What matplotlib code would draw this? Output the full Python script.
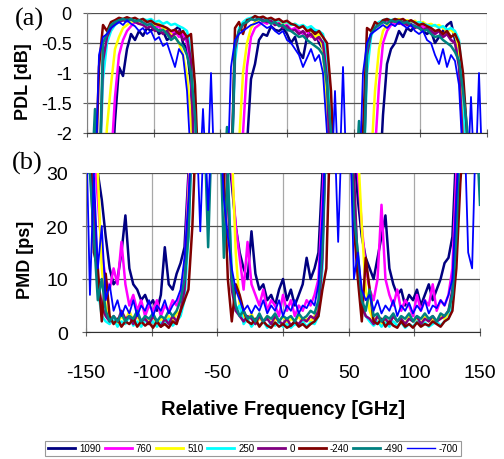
import matplotlib
matplotlib.use('Agg')
import matplotlib.pyplot as plt
from matplotlib.lines import Line2D

plt.rcParams['font.family'] = ['Liberation Sans', 'DejaVu Sans']
plt.rcParams['axes.unicode_minus'] = False

# sample grid (GHz) and the eight series (-3 dB / 40 ps = off the plotted range)
FREQ = list(range(-150, 151, 3))
LABELS = ['1090', '760', '510', '250', '0', '-240', '-490', '-700']
COLORS = ['#000080', '#FF00FF', '#FFFF00', '#00FFFF', '#800080', '#800000', '#008080', '#0000FF']

PDL_1090 = ([-3, -3, -3, -3, -3, -3, -3, -1.8, -0.9, -1.05, -0.6, -0.35, -0.45, -0.3, -0.38, -0.25, -0.3,
             -0.22, -0.35, -0.3, -0.45, -0.4, -0.28, -0.22, -0.5, -0.6, -1.2, -3, -3, -3, -3, -3, -3, -3]
            + [-3, -3, -3, -3, -3, -3, -2.2, -1.1, -0.85, -0.45, -0.35, -0.38, -0.22, -0.28, -0.3, -0.25, -0.35,
               -0.5, -0.4, -0.65, -0.75, -0.4, -0.25, -0.3, -0.5, -0.6, -1.4, -3, -3, -3, -3, -3, -3]
            + [-3, -3, -3, -3, -3, -3, -3, -1.7, -0.85, -0.6, -0.5, -0.3, -0.4, -0.25, -0.3, -0.2, -0.25,
               -0.3, -0.35, -0.3, -0.5, -0.4, -0.3, -0.2, -0.15, -0.45, -0.7, -1.5, -3, -3, -3, -3, -3, -3])
PDL_760 = ([-3, -3, -3, -3, -3, -3, -2.5, -1.4, -0.7, -0.45, -0.3, -0.22, -0.15, -0.18, -0.12, -0.2, -0.17,
            -0.25, -0.22, -0.3, -0.28, -0.35, -0.3, -0.4, -0.35, -0.5, -0.9, -3, -3, -3, -3, -3, -3, -3]
           + [-3, -3, -3, -3, -3, -2.0, -0.9, -0.4, -0.25, -0.2, -0.15, -0.18, -0.12, -0.2, -0.15, -0.22, -0.2,
              -0.28, -0.25, -0.3, -0.35, -0.3, -0.4, -0.35, -0.45, -0.5, -1.0, -3, -3, -3, -3, -3, -3]
           + [-3, -3, -3, -3, -3, -2.3, -1.2, -0.5, -0.3, -0.2, -0.18, -0.15, -0.2, -0.18, -0.22, -0.2, -0.25,
              -0.22, -0.28, -0.3, -0.35, -0.3, -0.4, -0.35, -0.45, -0.5, -0.7, -1.6, -3, -3, -3, -3, -3, -3])
PDL_510 = ([-3, -3, -3, -3, -3, -1.9, -1.2, -0.6, -0.4, -0.25, -0.2, -0.15, -0.12, -0.15, -0.1, -0.15, -0.12,
            -0.2, -0.18, -0.25, -0.3, -0.35, -0.4, -0.5, -0.7, -1.05, -1.8, -3, -3, -3, -3, -3, -3, -3]
           + [-3, -3, -3, -3, -2.2, -1.0, -0.5, -0.25, -0.15, -0.12, -0.1, -0.13, -0.1, -0.15, -0.12, -0.18,
              -0.15, -0.2, -0.18, -0.25, -0.2, -0.3, -0.28, -0.4, -0.35, -0.6, -1.6, -3, -3, -3, -3, -3, -3]
           + [-3, -3, -3, -3, -2.5, -1.3, -0.6, -0.3, -0.2, -0.15, -0.12, -0.1, -0.14, -0.12, -0.15, -0.13,
              -0.18, -0.15, -0.2, -0.18, -0.22, -0.2, -0.25, -0.3, -0.28, -0.35, -0.6, -2.0, -3, -3, -3, -3, -3, -3])
PDL_250 = ([-3, -3, -3, -3, -1.1, -0.5, -0.3, -0.2, -0.15, -0.12, -0.1, -0.12, -0.1, -0.13, -0.1, -0.12, -0.1,
            -0.15, -0.13, -0.18, -0.15, -0.2, -0.18, -0.22, -0.25, -0.3, -0.6, -1.8, -3, -3, -3, -3, -3, -3]
           + [-3, -3, -3, -0.8, -0.25, -0.15, -0.1, -0.08, -0.06, -0.1, -0.08, -0.12, -0.1, -0.14, -0.12, -0.16,
              -0.15, -0.2, -0.18, -0.22, -0.2, -0.25, -0.22, -0.28, -0.3, -0.35, -0.7, -2.0, -3, -3, -3, -3, -3]
           + [-3, -3, -3, -1.0, -0.4, -0.2, -0.15, -0.12, -0.1, -0.12, -0.1, -0.13, -0.12, -0.15, -0.13, -0.17,
              -0.15, -0.18, -0.2, -0.22, -0.2, -0.25, -0.22, -0.28, -0.25, -0.3, -0.45, -1.2, -3, -3, -3, -3, -3, -3])
PDL_0 = ([-3, -3, -3, -3, -0.8, -0.4, -0.25, -0.18, -0.15, -0.12, -0.14, -0.1, -0.15, -0.18, -0.2, -0.25, -0.22,
          -0.3, -0.28, -0.35, -0.3, -0.4, -0.35, -0.3, -0.45, -0.4, -0.8, -3, -3, -3, -3, -3, -3, -3]
         + [-3, -3, -3, -0.6, -0.3, -0.2, -0.15, -0.1, -0.12, -0.08, -0.12, -0.15, -0.13, -0.2, -0.18, -0.25,
            -0.22, -0.3, -0.28, -0.35, -0.3, -0.4, -0.35, -0.45, -0.4, -0.5, -1.1, -3, -3, -3, -3, -3, -3]
         + [-3, -3, -3, -0.7, -0.35, -0.25, -0.18, -0.15, -0.12, -0.15, -0.13, -0.18, -0.15, -0.2, -0.18, -0.25,
            -0.22, -0.28, -0.25, -0.3, -0.35, -0.3, -0.4, -0.35, -0.45, -0.5, -0.9, -2.2, -3, -3, -3, -3, -3, -3])
PDL_M240 = ([-3, -3, -3, -0.9, -0.2, -0.3, -0.15, -0.12, -0.08, -0.1, -0.07, -0.1, -0.08, -0.12, -0.1, -0.15,
             -0.13, -0.18, -0.2, -0.22, -0.25, -0.3, -0.28, -0.35, -0.3, -0.4, -0.35, -1.2, -3, -3, -3, -3, -3, -3]
            + [-3, -3, -3, -0.25, -0.15, -0.35, -0.12, -0.1, -0.05, -0.08, -0.06, -0.1, -0.08, -0.12, -0.1, -0.15,
               -0.13, -0.18, -0.2, -0.25, -0.22, -0.3, -0.28, -0.35, -0.3, -0.4, -0.5, -1.3, -3, -3, -3, -3, -3]
            + [-3, -3, -2.0, -0.25, -0.3, -0.15, -0.2, -0.12, -0.1, -0.13, -0.1, -0.12, -0.1, -0.15, -0.12, -0.16,
               -0.2, -0.18, -0.22, -0.25, -0.3, -0.28, -0.35, -0.3, -0.4, -0.35, -0.5, -1.0, -2.0, -3, -3, -3, -3, -3])
PDL_M490 = ([-3, -3, -1.6, -3, -0.5, -0.35, -0.2, -0.15, -0.12, -0.1, -0.12, -0.1, -0.14, -0.12, -0.16, -0.2,
             -0.18, -0.25, -0.3, -0.28, -0.35, -0.45, -0.4, -0.5, -0.55, -0.7, -1.0, -1.7, -3, -3, -3, -3, -3, -3]
            + [-3, -1.9, -3, -0.5, -0.3, -0.18, -0.15, -0.1, -0.12, -0.1, -0.14, -0.12, -0.18, -0.15, -0.22, -0.2,
               -0.28, -0.3, -0.35, -0.4, -0.38, -0.45, -0.5, -0.55, -0.6, -0.7, -1.2, -2.0, -3, -3, -3, -3, -3]
            + [-3, -1.8, -3, -0.6, -0.35, -0.25, -0.2, -0.15, -0.18, -0.12, -0.15, -0.13, -0.17, -0.15, -0.2, -0.22,
               -0.25, -0.3, -0.28, -0.35, -0.4, -0.38, -0.45, -0.5, -0.55, -0.65, -0.8, -1.3, -1.9, -3, -3, -3, -3, -3])
PDL_M700 = ([-3, -3, -3, -0.7, -0.4, -0.35, -0.25, -0.2, -0.15, -0.2, -0.12, -0.18, -0.22, -0.3, -0.25, -0.35,
             -0.3, -0.45, -0.4, -0.55, -0.5, -0.7, -0.9, -0.6, -0.7, -1.3, -2.5, -3, -3, -1.6, -3, -1.0, -3, -3]
            + [-3, -3, -0.9, -0.45, -0.35, -0.3, -0.25, -0.2, -0.18, -0.15, -0.2, -0.25, -0.22, -0.3, -0.35, -0.3,
               -0.45, -0.5, -0.6, -0.7, -0.9, -0.75, -0.6, -0.8, -0.7, -1.0, -2.0, -3, -1.3, -3, -0.9, -3, -3]
            + [-3, -3, -1.0, -0.5, -0.35, -0.3, -0.25, -0.2, -0.25, -0.18, -0.22, -0.15, -0.2, -0.25, -0.2, -0.3,
               -0.35, -0.3, -0.45, -0.5, -0.7, -0.85, -0.6, -0.9, -0.7, -0.8, -1.2, -2.5, -3, -1.4, -3, -1.0, -3, -3])

PMD_1090 = ([40, 40, 40, 30, 25, 18, 12, 9, 10, 15, 22, 12, 9, 8, 6, 7, 5, 6, 4, 7, 16, 9, 8, 11, 13, 16, 30, 40,
             40, 40, 40, 40, 40, 40]
            + [40, 40, 35, 28, 20, 15, 12, 10, 19, 11, 8, 9, 6, 7, 5, 8, 10, 6, 8, 5, 7, 9, 14, 10, 12, 15, 30, 40,
               40, 40, 40, 40, 40]
            + [40, 35, 25, 18, 14, 12, 10, 14, 18, 22, 12, 9, 7, 8, 5, 7, 6, 8, 5, 7, 9, 6, 8, 10, 13, 14, 18, 35,
               40, 40, 40, 40, 40, 40])
PMD_760 = ([40, 40, 35, 25, 15, 10, 8, 12, 9, 17, 9, 5, 7, 4, 6, 3, 5, 4, 6, 3, 5, 4, 6, 5, 7, 12, 28, 40,
            40, 40, 40, 40, 40, 40]
           + [40, 40, 40, 30, 20, 14, 8, 17, 9, 7, 5, 8, 4, 6, 5, 3, 7, 4, 6, 3, 5, 4, 6, 5, 7, 10, 25, 40,
              40, 40, 40, 40, 40]
           + [40, 40, 30, 20, 12, 8, 6, 10, 24, 10, 7, 5, 8, 4, 6, 5, 3, 7, 4, 6, 5, 9, 4, 6, 5, 7, 12, 30,
              40, 40, 40, 40, 40, 40])
PMD_510 = ([40, 40, 40, 30, 12, 5, 3, 2, 1.5, 3, 2, 4, 2, 3, 1.5, 2.5, 2, 3, 1.5, 2.5, 2, 3, 2, 3.5, 4, 9, 25, 40,
            40, 40, 40, 40, 40, 40]
           + [40, 40, 40, 35, 15, 5, 3, 2, 3.5, 1.5, 2.5, 2, 3, 1.5, 2.5, 2, 3, 1.5, 2.5, 2, 3, 1.5, 2.5, 2, 3, 5,
              15, 40, 40, 40, 40, 40, 40]
           + [40, 40, 35, 20, 8, 4, 2, 3, 1.5, 2.5, 1.5, 3, 2, 2.5, 1.5, 3, 2, 2.5, 1.5, 3, 2, 2.5, 2, 3, 2.5, 3.5,
              6, 22, 40, 40, 40, 40, 40, 40])
PMD_250 = ([40, 40, 22, 8, 3, 2, 1.5, 2.5, 1, 2, 1.5, 3, 1.2, 2, 1, 2.2, 1.5, 2, 1, 1.8, 1.5, 2.5, 1.2, 2, 3, 6,
            18, 40, 40, 40, 40, 40, 40, 40]
           + [40, 40, 30, 10, 4, 5, 1.5, 2.5, 1, 2, 1.2, 2, 0.8, 1.8, 1.2, 2, 1, 1.5, 0.8, 1.5, 1.2, 2, 1, 1.8, 1.5,
              3, 12, 40, 40, 40, 40, 40, 40]
           + [40, 28, 12, 5, 3, 2, 1.2, 2, 1, 1.8, 1, 2, 1.2, 1.8, 0.8, 1.5, 1, 2, 1.2, 1.8, 1, 1.5, 2, 1.2, 2, 2.5,
              5, 15, 40, 40, 40, 40, 40, 40])
PMD_0 = ([40, 40, 25, 10, 5, 3, 2, 3, 2, 4, 2.5, 3, 1.5, 3.5, 2, 2.5, 1.5, 3, 2, 1, 2.5, 1.5, 3, 2, 4, 8, 22, 40,
          40, 40, 40, 40, 40, 40]
         + [40, 40, 25, 8, 4, 3, 2, 3, 2.5, 1.5, 3, 2, 2.5, 1.5, 3, 2, 1.5, 2.5, 1.2, 2, 1.5, 2.5, 2, 3, 2.5, 4, 14,
            40, 40, 40, 40, 40, 40]
         + [40, 30, 12, 5, 3, 2.5, 1.5, 3, 2, 2.5, 1.5, 3, 2, 2.5, 1.5, 2.5, 2, 3, 1.5, 2.5, 2, 3, 2, 2.5, 3, 4, 8,
            25, 40, 40, 40, 40, 40, 40])
PMD_M240 = ([40, 35, 15, 12, 2, 11, 3, 1.5, 2.5, 1, 2, 1.5, 2.5, 1, 2, 1.2, 1.8, 0.8, 2, 1, 1.5, 0.8, 2, 1.5, 4,
             6, 8, 20, 40, 40, 40, 40, 40, 40]
            + [40, 30, 10, 2, 9, 7, 4, 2, 1.5, 2.5, 1, 2, 1.2, 0.8, 1.8, 1, 1.5, 0.8, 1.2, 2, 1, 1.5, 0.8, 1.5, 2,
               3, 8, 12, 40, 40, 40, 40, 40]
            + [40, 20, 10, 2, 14, 8, 2, 1.5, 2.5, 1, 2, 1.2, 0.8, 2, 1, 1.5, 0.8, 1.8, 1, 1.5, 1.2, 2, 1.5, 1, 2,
               2.5, 4, 12, 28, 40, 40, 40, 40, 40])
PMD_M490 = ([40, 30, 18, 6, 10, 4, 2, 3, 2, 3.5, 2, 3, 2.5, 4, 2, 3, 2.5, 3.5, 2, 3, 2.5, 4, 3, 4, 6, 10, 18, 40,
             40, 40, 40, 16, 40, 40]
            + [40, 14, 30, 10, 5, 3, 4, 2.5, 3, 2, 3.5, 2, 3, 2.5, 3.5, 2, 3, 2.5, 3, 2, 3.5, 2.5, 3, 4, 3.5, 6, 16,
               40, 40, 40, 40, 40, 40]
            + [40, 22, 15, 6, 4, 8, 3, 3.5, 2, 3, 2.5, 3.5, 2, 3, 2.5, 3.5, 2, 3, 2.5, 3.5, 2.5, 3, 2, 3.5, 3, 4, 7,
               18, 40, 40, 40, 40, 40, 24])
PMD_M700 = ([40, 7, 30, 12, 20, 6, 9, 4, 6, 3, 5, 3.5, 6, 3, 5, 4, 6, 3, 5, 4, 6, 3.5, 5, 6, 8, 14, 25, 40,
             40, 19, 40, 23, 40, 40]
            + [40, 25, 18, 12, 8, 6, 4, 5, 3.5, 5, 4, 6, 3.5, 5, 4, 6, 3, 5, 4, 6, 3.5, 5, 4.5, 6, 5, 9, 22, 40,
               40, 40, 17, 40, 40]
            + [40, 10, 15, 8, 6, 7, 4, 6, 3.5, 5, 4, 6, 3, 5, 4, 5.5, 3.5, 5, 4, 6, 3.5, 5, 4.5, 6, 5, 7, 10, 25,
               40, 40, 15, 12, 40, 40])

PDL = [PDL_1090, PDL_760, PDL_510, PDL_250, PDL_0, PDL_M240, PDL_M490, PDL_M700]
PMD = [PMD_1090, PMD_760, PMD_510, PMD_250, PMD_0, PMD_M240, PMD_M490, PMD_M700]
WIDTHS = [1.8, 1.8, 1.8, 1.8, 1.8, 1.8, 1.8, 1.3]

W, H = 504, 460
fig = plt.figure(figsize=(W / 100, H / 100), dpi=100)
ax1 = fig.add_axes([87 / W, 1 - 134 / H, 400 / W, 120 / H])
ax2 = fig.add_axes([86 / W, 1 - 333 / H, 394 / W, 159 / H])

for ax in (ax1, ax2):
    ax.set_xlim(-150, 150)
    ax.set_xticks(range(-150, 151, 50))
    ax.set_axisbelow(True)
    ax.grid(axis='x', color='#a8a8a8', lw=0.9)
    ax.grid(axis='y', color='#505050', lw=0.9)
    for side in ['top', 'right']:
        ax.spines[side].set_visible(False)
    ax.spines['left'].set_color('#808080')
    ax.spines['bottom'].set_color('#303030')
    ax.tick_params(direction='inout', length=6, color='#606060')

for y, c, w in zip(PDL, COLORS, WIDTHS):
    ax1.plot(FREQ, y, color=c, lw=w)
for y, c, w in zip(PMD, COLORS, WIDTHS):
    ax2.plot(FREQ, y, color=c, lw=w)

ax1.set_ylim(-2, 0)
ax1.set_yticks([0, -0.5, -1, -1.5, -2])
ax1.set_yticklabels(['0', '-0.5', '-1', '-1.5', '-2'])
ax1.tick_params(axis='y', labelsize=13, pad=8)
ax1.tick_params(axis='x', labelbottom=False)

ax2.set_ylim(0, 30)
ax2.set_yticks([0, 10, 20, 30])
ax2.tick_params(axis='y', labelsize=14, pad=10)
ax2.tick_params(axis='x', labelsize=14, pad=20)

fig.text(29 / W, 1 - 19 / H, '(a)', family=['Liberation Serif', 'DejaVu Serif'], fontsize=19,
         ha='center', va='center')
fig.text(27 / W, 1 - 163 / H, '(b)', family=['Liberation Serif', 'DejaVu Serif'], fontsize=19,
         ha='center', va='center')
fig.text(23 / W, 1 - 82 / H, 'PDL [dB]', rotation=90, fontweight='bold', fontsize=13,
         ha='center', va='center')
fig.text(25 / W, 1 - 260 / H, 'PMD [ps]', rotation=90, fontweight='bold', fontsize=13,
         ha='center', va='center')
fig.text(283 / W, 1 - 410 / H, 'Relative Frequency [GHz]', fontweight='bold', fontsize=14.5,
         ha='center', va='center')

handles = [Line2D([], [], color=c, lw=2 if w > 1.5 else 1) for c, w in zip(COLORS, WIDTHS)]
leg = fig.legend(handles, LABELS, ncol=8, loc='center', bbox_to_anchor=(253 / W, 1 - 449.5 / H),
                 fontsize=7, frameon=True, fancybox=False, edgecolor='#808080', handlelength=2.8,
                 handletextpad=0.4, columnspacing=0.4, borderpad=0.3)
leg.get_frame().set_linewidth(0.8)

fig.savefig('out.png', dpi=100)
